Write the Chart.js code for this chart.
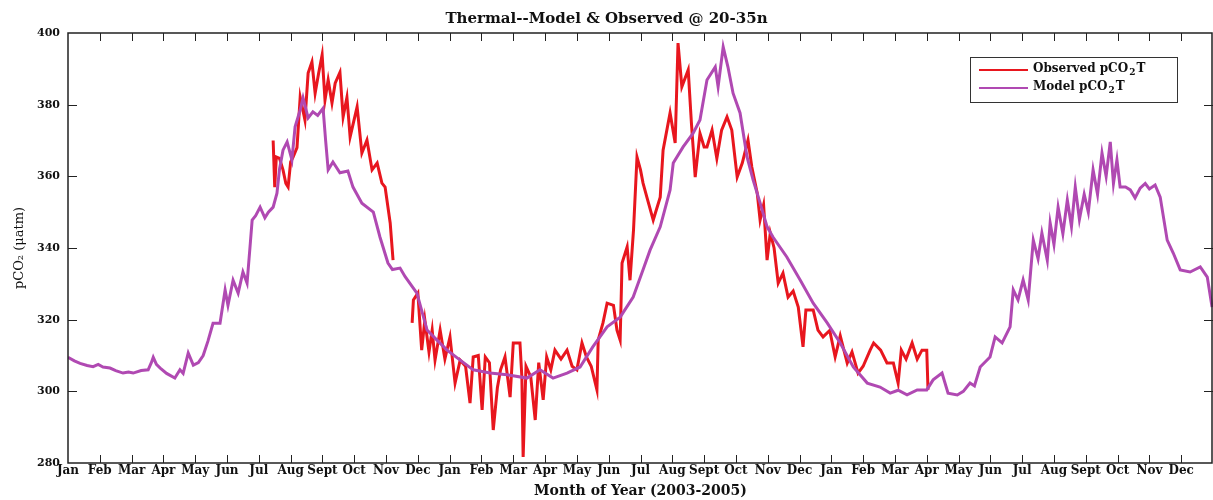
<!DOCTYPE html>
<html>
<head>
<meta charset="utf-8">
<script src="https://cdn.jsdelivr.net/npm/chart.js@4/dist/chart.umd.min.js"></script>
<style>
  body { margin: 0; background: #fff; }
  canvas { display: block; }
</style>
</head>
<body>
<canvas id="co2Chart" width="1213" height="500"></canvas>
<script>
// month labels (3 years, 2003-2005)
const monthNames = ["Jan", "Feb", "Mar", "Apr", "May", "Jun", "Jul", "Aug", "Sept", "Oct", "Nov", "Dec"];
const tickMonths = [];
for (let i = 0; i < 36; i++) tickMonths.push(i);
const yTicks = [280, 300, 320, 340, 360, 380, 400];

// Model pCO2T (x = months since Jan 2003)
const modelMonth = [
  0.0, 0.2, 0.38, 0.6, 0.79, 0.95, 1.1, 1.32, 1.5, 1.73, 1.9, 2.05, 2.3, 2.52, 2.62, 2.68, 2.78, 2.9, 3.1, 3.36,
  3.52, 3.62, 3.78, 3.94, 4.1, 4.25, 4.4, 4.56, 4.78, 4.94, 5.03, 5.19, 5.35, 5.5, 5.63, 5.72, 5.79, 5.9, 6.04, 6.19,
  6.3, 6.45, 6.57, 6.65, 6.76, 6.89, 7.04, 7.14, 7.3, 7.39, 7.55, 7.7, 7.85, 8.02, 8.1, 8.18, 8.33, 8.55, 8.8, 8.96,
  9.24, 9.6, 9.81, 10.06, 10.2, 10.44, 10.6, 10.97, 11.29, 11.6, 11.92, 12.33, 12.74, 13.27, 13.8, 14.43, 14.84, 15.25, 15.69, 16.1,
  16.5, 16.95, 17.36, 17.77, 18.08, 18.3, 18.62, 18.93, 19.03, 19.34, 19.65, 19.87, 20.09, 20.35, 20.44, 20.6, 20.75, 20.91, 21.13, 21.35,
  21.54, 21.76, 21.98, 22.17, 22.6, 23.02, 23.43, 23.87, 24.28, 24.69, 25.13, 25.53, 25.85, 26.1, 26.38, 26.7, 27.0, 27.2, 27.48, 27.67,
  27.96, 28.15, 28.36, 28.5, 28.68, 28.99, 29.15, 29.37, 29.62, 29.72, 29.87, 30.03, 30.19, 30.35, 30.5, 30.62, 30.79, 30.88, 31.0, 31.13,
  31.28, 31.42, 31.55, 31.67, 31.8, 31.95, 32.08, 32.23, 32.37, 32.51, 32.64, 32.77, 32.87, 32.98, 33.08, 33.25, 33.4, 33.55, 33.71, 33.87,
  34.0, 34.18, 34.34, 34.56, 34.75, 34.97, 35.28, 35.6, 35.82, 35.97
];
const modelVal = [
  309.5, 308.5, 307.8, 307.2, 306.9, 307.5, 306.8, 306.5, 305.8, 305.1, 305.4, 305.1, 305.8, 306, 308, 309.5, 307.5, 306.5, 305, 303.7,
  306, 305, 310.7, 307.3, 308, 310, 314, 319, 319, 328.3, 324, 331, 327.4, 333.3, 330.2, 340, 347.8, 349, 351.4, 348.4,
  350, 351.4, 355.3, 362, 367.3, 369.6, 364.6, 373.8, 378.5, 381.9, 376.3, 378, 377, 379, 370, 361.8, 364, 361, 361.5, 357,
  352.5, 350, 343, 335.8, 334, 334.4, 332, 327.4, 317.1, 314.3, 311.5, 308.7, 306, 305.1, 304.6, 303.7, 306, 303.7, 305.1, 306.8,
  312.4, 318, 320.7, 326.3, 333.9, 339.4, 345.9, 356.2, 363.7, 368.2, 372, 375.7, 386.9, 390.5, 385, 396.1, 390.5, 383.2, 377.7, 365.4,
  359, 352.6, 345.9, 343, 337.5, 331.1, 324.6, 319.1, 313.5, 306.8, 302.3, 301.2, 299.5, 300.3, 299, 300.4, 300.4, 303.2, 305.1, 299.5,
  299, 300, 302.3, 301.5, 306.8, 309.6, 315.2, 313.5, 318, 328.3, 325.5, 331.1, 325.5, 342.2, 337, 344.2, 336.6, 347, 341, 351.4,
  344, 353.4, 346, 357, 348, 355, 350, 361.8, 355, 366.5, 360, 369.6, 358, 364.6, 357, 357, 356.2, 354, 356.7, 358,
  356.5, 357.6, 354.2, 342.2, 338.6, 333.9, 333.3, 334.7, 331.9, 323.5
];

// Observed pCO2T (null = no data)
const obsMonth = [
  6.45, 6.5, 6.55, 6.65, 6.76, 6.85, 6.92, 7.0, 7.08, 7.2, 7.3, 7.45, 7.55, 7.67, 7.77, 7.88, 7.99, 8.08, 8.18, 8.3,
  8.4, 8.55, 8.65, 8.77, 8.87, 9.09, 9.24, 9.4, 9.56, 9.72, 9.87, 9.97, 10.13, 10.22, 10.5,
  10.82, 10.86, 11.0, 11.12, 11.22, 11.35, 11.45, 11.54, 11.7, 11.85, 12.01, 12.17, 12.33, 12.5, 12.64, 12.74, 12.9, 13.02, 13.12, 13.25,
  13.37, 13.5, 13.6, 13.74, 13.9, 14.0, 14.21, 14.27, 14.31, 14.4, 14.55, 14.69, 14.8, 14.94, 15.05, 15.18, 15.31, 15.5, 15.69, 15.85,
  16.0, 16.16, 16.3, 16.45, 16.63, 16.67, 16.82, 16.95, 17.15, 17.26, 17.36, 17.42, 17.58, 17.67, 17.78, 17.89, 18.0, 18.08, 18.2, 18.4,
  18.62, 18.71, 18.93, 19.09, 19.18, 19.3, 19.5, 19.6, 19.72, 19.87, 20.0, 20.09, 20.25, 20.4, 20.55, 20.72, 20.87, 21.04, 21.2, 21.38,
  21.5, 21.67, 21.76, 21.87, 21.98, 22.08, 22.2, 22.33, 22.48, 22.64, 22.8, 22.96, 23.11, 23.2, 23.43, 23.58, 23.74, 23.95, 24.12, 24.28,
  24.5, 24.65, 24.84, 25.0, 25.22, 25.33, 25.55, 25.75, 25.95, 26.1, 26.2, 26.35, 26.54, 26.7, 26.85, 27.0, 27.04
];
const obsVal = [
  370, 357, 365.4, 365, 361.8, 358, 357, 364, 365.4, 368, 382.1, 375.7, 388.8, 391.9, 383.2, 388.8, 393.9, 381.3, 386.9, 380.5,
  386, 389, 376.6, 382, 371, 379.4, 366.5, 370.1, 361.8, 363.7, 358.1, 357, 347, 336.6, null,
  319.1, 325.5, 327.4, 311.5, 319.9, 311, 317.1, 308.7, 317.1, 309, 315.2, 302.3, 308.7, 307, 296.7, 309.6, 310, 294.8, 309.6, 308,
  289.2, 301, 306, 309.6, 298.4, 313.5, 313.5, 304, 281.7, 307, 304, 292, 308, 297.6, 309.6, 306, 311.5, 309, 311.5, 307,
  306, 313.5, 309.6, 307, 300.4, 314.3, 319.1, 324.6, 324, 317.1, 314.3, 335.8, 340.3, 331, 345, 365.4, 361.8, 358.1, 354.2, 347.8,
  354.2, 367.3, 377.7, 369.3, 397.2, 385, 389.7, 375, 359.8, 372, 368.2, 368.2, 372.9, 365, 372.9, 376.6, 372.9, 359.8, 363.7, 370.1,
  362.6, 355.3, 347.8, 352, 336.6, 344.2, 340, 330.2, 333, 326.3, 328, 323.5, 312.4, 322.7, 322.7, 317.1, 315.2, 317, 309.6, 315.5,
  307.9, 311, 305.1, 307, 311.5, 313.5, 311.5, 307.9, 307.9, 302.3, 311.5, 309, 313.5, 309, 311.5, 311.5, 300.4
];

const obsColor = "#e8161e";
const modelColor = "#b049b2";
const serif = "'DejaVu Serif', 'Liberation Serif', serif";

Chart.defaults.font.family = serif;
Chart.defaults.color = "#111";

// draw text with a subscript "2"
function drawSubText(ctx, x, y, before, sub, after, size) {
  ctx.font = "bold " + size + "px " + serif;
  ctx.fillText(before, x, y);
  x += ctx.measureText(before).width;
  ctx.font = "bold " + (size - 3) + "px " + serif;
  ctx.fillText(sub, x + 1, y + 4);
  x += ctx.measureText(sub).width + 2;
  ctx.font = "bold " + size + "px " + serif;
  ctx.fillText(after, x, y);
}

// frame, inward ticks and boxed legend
const framePlugin = {
  id: "frame",
  afterDatasetsDraw(chart) {
    const ctx = chart.ctx;
    const a = chart.chartArea;
    const xs = chart.scales.x;
    const ys = chart.scales.y;
    ctx.save();
    ctx.strokeStyle = "#222";
    ctx.lineWidth = 1.5;
    ctx.strokeRect(a.left, a.top, a.right - a.left - 1, a.bottom - a.top);

    ctx.lineWidth = 1;
    ctx.beginPath();
    tickMonths.forEach(m => {
      if (m === 0) return;
      const px = Math.round(xs.getPixelForValue(m)) + 0.5;
      ctx.moveTo(px, a.bottom);
      ctx.lineTo(px, a.bottom - 8);
      ctx.moveTo(px, a.top);
      ctx.lineTo(px, a.top + 8);
    });
    yTicks.forEach(v => {
      if (v === 280 || v === 400) return;
      const py = Math.round(ys.getPixelForValue(v)) + 0.5;
      ctx.moveTo(a.left, py);
      ctx.lineTo(a.left + 9, py);
      ctx.moveTo(a.right, py);
      ctx.lineTo(a.right - 9, py);
    });
    ctx.stroke();

    // legend box
    const lx = 970, ly = 57, lw = 207, lh = 45;
    ctx.fillStyle = "#fff";
    ctx.fillRect(lx, ly, lw, lh);
    ctx.strokeStyle = "#333";
    ctx.lineWidth = 1;
    ctx.strokeRect(lx + 0.5, ly + 0.5, lw, lh);

    const items = [
      { color: obsColor, name: "Observed pCO", y: 70 },
      { color: modelColor, name: "Model pCO", y: 88 }
    ];
    items.forEach(it => {
      ctx.strokeStyle = it.color;
      ctx.lineWidth = 2;
      ctx.beginPath();
      ctx.moveTo(979, it.y);
      ctx.lineTo(1028, it.y);
      ctx.stroke();
      ctx.fillStyle = "#111";
      ctx.textBaseline = "middle";
      ctx.textAlign = "left";
      drawSubText(ctx, 1033, it.y - 1, it.name, "2", "T", 12);
    });
    ctx.restore();
  }
};

new Chart(document.getElementById("co2Chart"), {
  type: "line",
  data: {
    datasets: [{
      label: "Observed pCO2T",
      data: obsMonth.map((m, i) => ({ x: m, y: obsVal[i] })),
      borderColor: obsColor,
      borderWidth: 3,
      pointRadius: 0,
      tension: 0,
      spanGaps: false,
      order: 1
    }, {
      label: "Model pCO2T",
      data: modelMonth.map((m, i) => ({ x: m, y: modelVal[i] })),
      borderColor: modelColor,
      borderWidth: 3,
      pointRadius: 0,
      tension: 0,
      order: 0
    }]
  },
  options: {
    responsive: false,
    animation: false,
    devicePixelRatio: 1,
    layout: { padding: 0 },
    plugins: {
      legend: { display: false },
      tooltip: { enabled: false },
      title: {
        display: true,
        text: "Thermal--Model & Observed @ 20-35n",
        font: { size: 15, weight: "bold" },
        color: "#111",
        padding: { top: 10, bottom: 5 }
      }
    },
    scales: {
      x: {
        type: "linear",
        min: 0,
        max: 36,
        grid: { display: false, drawTicks: false },
        border: { display: false },
        afterBuildTicks: scale => { scale.ticks = tickMonths.map(v => ({ value: v })); },
        afterFit: scale => { scale.height = 37; },
        ticks: {
          autoSkip: false,
          maxRotation: 0,
          padding: 1,
          font: { size: 12, weight: "bold" },
          callback: v => monthNames[v % 12]
        },
        title: {
          display: true,
          text: "Month of Year (2003-2005)",
          font: { size: 14, weight: "bold" },
          padding: { top: 0, bottom: 0 }
        }
      },
      y: {
        min: 280,
        max: 400,
        grid: { display: false, drawTicks: false },
        border: { display: false },
        afterBuildTicks: scale => { scale.ticks = yTicks.map(v => ({ value: v })); },
        afterFit: scale => { scale.width = 68; },
        ticks: {
          padding: 8,
          font: { size: 11, weight: "bold" }
        },
        title: {
          display: true,
          text: "pCO\u2082 (\u03bcatm)",
          font: { size: 13 },
          padding: { top: 12, bottom: 0 }
        }
      }
    }
  },
  plugins: [framePlugin]
});
</script>
</body>
</html>
